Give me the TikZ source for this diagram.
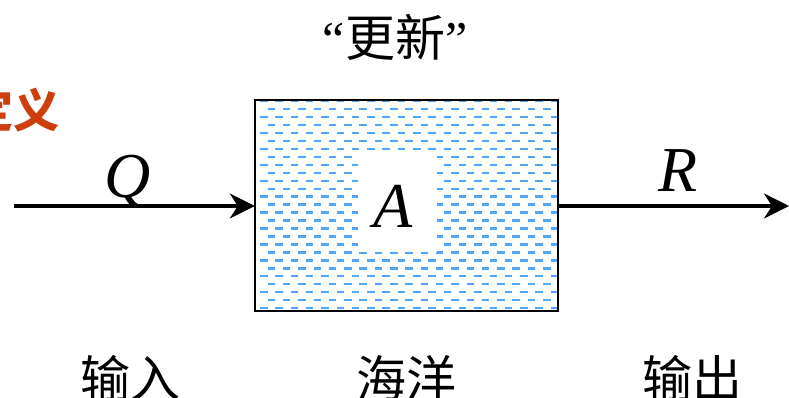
\documentclass[tikz,border=0pt]{standalone}
\usepackage{fontspec}
\setmainfont{Liberation Serif}
\newfontfamily\cjk{Noto Sans CJK SC}
\usetikzlibrary{arrows.meta}
\definecolor{waterblue}{RGB}{80,165,250}
\definecolor{titlered}{RGB}{205,62,12}
\tikzset{
  flow/.style={line width=3.2pt, -{Stealth[length=25pt,width=25pt,inset=8pt]}},
  sym/.style={font=\fontsize{64}{64}\selectfont\itshape, inner sep=0pt},
  cjklabel/.style={font=\cjk\fontsize{50}{50}\selectfont, inner sep=0pt, anchor=base},
  waterline/.style={waterblue, line width=2.3pt}
}
\begin{document}
\begin{tikzpicture}[x=1pt,y=-1pt]
\useasboundingbox (0,0) rectangle (789,397);
% ocean box
\node[draw=none, minimum width=303pt, minimum height=211pt, inner sep=0pt] (ocean) at (406.5,205.5) {};
\begin{scope}
  \clip (256,101) rectangle (557,311);
  \foreach \i in {0,...,26} {
    \pgfmathsetmacro{\yy}{101+\i*7.97}
    \pgfmathsetmacro{\ph}{mod(\i,2)==0 ? 0 : 7.7}
    \draw[waterline, dash pattern=on 7.5pt off 7.8pt, dash phase=\ph pt] (260,\yy) -- (557,\yy);
  }
\end{scope}
\fill[white] (358,155) rectangle (437,252);
\draw[line width=2.2pt] (ocean.south west) rectangle (ocean.north east);
% labels
\node[sym, anchor=base] (A) at (393,227) {A};
\coordinate (lstart) at (14,206);
\coordinate (rend) at (789,206);
\draw[flow] (lstart) -- (ocean.west |- lstart);
\draw[flow] (ocean.east |- rend) -- (rend);
\node[sym, anchor=base] (Q) at (128,197) {Q};
\node[sym, anchor=base] (R) at (678,191) {R};
\node[inner sep=0pt, anchor=base] (upd) at (395,56) {\fontsize{50}{50}\selectfont “{\cjk 更新}”};
\node[cjklabel, text=titlered, font=\cjk\bfseries\fontsize{46}{46}\selectfont] (def) at (14,127) {定义};
\node[cjklabel] (in) at (130,397) {输入};
\node[cjklabel] (sea) at (406,397) {海洋};
\node[cjklabel] (out) at (692,397) {输出};
\end{tikzpicture}
\end{document}
